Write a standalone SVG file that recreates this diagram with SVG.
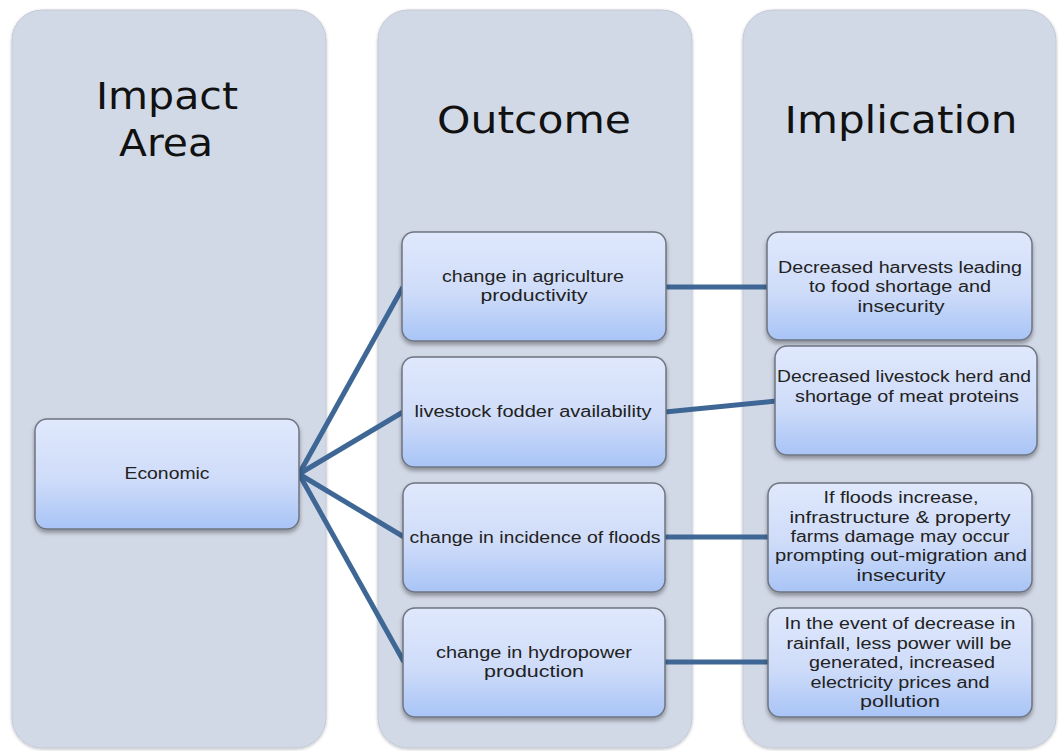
<svg xmlns="http://www.w3.org/2000/svg" width="1060" height="751" viewBox="0 0 1060 751">
<defs>
<linearGradient id="boxg" x1="0" y1="0" x2="0" y2="1">
<stop offset="0" stop-color="#dfe8fc"/>
<stop offset="0.55" stop-color="#cfdcf9"/>
<stop offset="1" stop-color="#a8c4f6"/>
</linearGradient>
<filter id="sh" x="-10%" y="-10%" width="120%" height="130%">
<feDropShadow dx="0" dy="3" stdDeviation="2" flood-color="#000" flood-opacity="0.35"/>
</filter>
<filter id="csh" x="-5%" y="-5%" width="110%" height="110%">
<feDropShadow dx="0" dy="1" stdDeviation="1.5" flood-color="#000" flood-opacity="0.25"/>
</filter>
</defs>
<style>
.col{fill:#d2d9e6;stroke:#c3cad7;stroke-width:1}
.box{fill:url(#boxg);stroke:#6e7480;stroke-width:1.5}
.hd{font-family:"DejaVu Sans",Verdana,sans-serif;font-size:37px;fill:#111;text-anchor:middle}
.tx{font-family:"Liberation Sans",Arial,sans-serif;font-size:16px;fill:#222;text-anchor:middle}
.cn{stroke:#3f6796;stroke-width:5;fill:none;stroke-linecap:butt}
</style>
<rect width="1060" height="751" fill="#ffffff"/>
<g id="columns" filter="url(#csh)">
<rect class="col" x="12" y="10" width="314" height="738" rx="30"/>
<rect class="col" x="378" y="10" width="314" height="738" rx="30"/>
<rect class="col" x="743" y="10" width="313" height="738" rx="30"/>
</g>
<g id="headers">
<text class="hd" x="167" y="109" textLength="142" lengthAdjust="spacingAndGlyphs">Impact</text>
<text class="hd" x="166" y="156" textLength="94" lengthAdjust="spacingAndGlyphs">Area</text>
<text class="hd" x="534" y="133" textLength="194" lengthAdjust="spacingAndGlyphs">Outcome</text>
<text class="hd" x="901" y="133" textLength="233" lengthAdjust="spacingAndGlyphs">Implication</text>
</g>
<g id="connectors">
<line class="cn" x1="299" y1="474" x2="403" y2="287"/>
<line class="cn" x1="299" y1="474" x2="403" y2="412"/>
<line class="cn" x1="299" y1="474" x2="404" y2="537"/>
<line class="cn" x1="299" y1="474" x2="404" y2="662"/>
<line class="cn" x1="665" y1="287" x2="768" y2="287"/>
<line class="cn" x1="665" y1="412" x2="776" y2="401"/>
<line class="cn" x1="664" y1="537" x2="769" y2="537"/>
<line class="cn" x1="664" y1="662" x2="769" y2="662"/>
</g>
<g id="economic">
<rect class="box" filter="url(#sh)" x="35" y="419" width="264" height="110" rx="12"/>
<text class="tx" x="167" y="479" textLength="85" lengthAdjust="spacingAndGlyphs">Economic</text>
</g>
<g id="outcome1">
<rect class="box" filter="url(#sh)" x="402" y="232" width="264" height="109" rx="12"/>
<text class="tx" x="533" y="282" textLength="182" lengthAdjust="spacingAndGlyphs">change in agriculture</text>
<text class="tx" x="534" y="301" textLength="107" lengthAdjust="spacingAndGlyphs">productivity</text>
</g>
<g id="outcome2">
<rect class="box" filter="url(#sh)" x="402" y="357" width="264" height="110" rx="12"/>
<text class="tx" x="533" y="417" textLength="237" lengthAdjust="spacingAndGlyphs">livestock fodder availability</text>
</g>
<g id="outcome3">
<rect class="box" filter="url(#sh)" x="403" y="483" width="262" height="109" rx="12"/>
<text class="tx" x="535" y="543" textLength="251" lengthAdjust="spacingAndGlyphs">change in incidence of floods</text>
</g>
<g id="outcome4">
<rect class="box" filter="url(#sh)" x="403" y="608" width="262" height="109" rx="12"/>
<text class="tx" x="534" y="658" textLength="196" lengthAdjust="spacingAndGlyphs">change in hydropower</text>
<text class="tx" x="534" y="677" textLength="100" lengthAdjust="spacingAndGlyphs">production</text>
</g>
<g id="implication1">
<rect class="box" filter="url(#sh)" x="767" y="232" width="265" height="108" rx="12"/>
<text class="tx" x="900" y="273" textLength="244" lengthAdjust="spacingAndGlyphs">Decreased harvests leading</text>
<text class="tx" x="900" y="292" textLength="182" lengthAdjust="spacingAndGlyphs">to food shortage and</text>
<text class="tx" x="901" y="312" textLength="87" lengthAdjust="spacingAndGlyphs">insecurity</text>
</g>
<g id="implication2">
<rect class="box" filter="url(#sh)" x="775" y="346" width="262" height="109" rx="12"/>
<text class="tx" x="904" y="382" textLength="254" lengthAdjust="spacingAndGlyphs">Decreased livestock herd and</text>
<text class="tx" x="907" y="402" textLength="224" lengthAdjust="spacingAndGlyphs">shortage of meat proteins</text>
</g>
<g id="implication3">
<rect class="box" filter="url(#sh)" x="768" y="483" width="264" height="109" rx="12"/>
<text class="tx" x="901" y="503" textLength="155" lengthAdjust="spacingAndGlyphs">If floods increase,</text>
<text class="tx" x="900" y="523" textLength="221" lengthAdjust="spacingAndGlyphs">infrastructure &amp; property</text>
<text class="tx" x="900" y="542" textLength="219" lengthAdjust="spacingAndGlyphs">farms damage may occur</text>
<text class="tx" x="901" y="561" textLength="252" lengthAdjust="spacingAndGlyphs">prompting out-migration and</text>
<text class="tx" x="901" y="581" textLength="89" lengthAdjust="spacingAndGlyphs">insecurity</text>
</g>
<g id="implication4">
<rect class="box" filter="url(#sh)" x="768" y="608" width="264" height="109" rx="12"/>
<text class="tx" x="900" y="629" textLength="231" lengthAdjust="spacingAndGlyphs">In the event of decrease in</text>
<text class="tx" x="899" y="649" textLength="225" lengthAdjust="spacingAndGlyphs">rainfall, less power will be</text>
<text class="tx" x="902" y="668" textLength="186" lengthAdjust="spacingAndGlyphs">generated, increased</text>
<text class="tx" x="900" y="688" textLength="179" lengthAdjust="spacingAndGlyphs">electricity prices and</text>
<text class="tx" x="900" y="707" textLength="80" lengthAdjust="spacingAndGlyphs">pollution</text>
</g>
</svg>
